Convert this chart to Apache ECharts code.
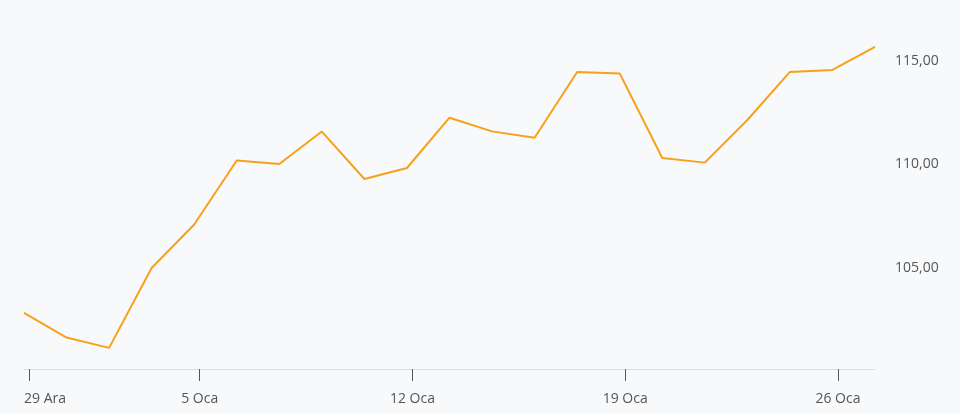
<!DOCTYPE html>
<html>
<head>
<meta charset="utf-8">
<script src="https://cdn.jsdelivr.net/npm/echarts@6/dist/echarts.min.js"></script>
<style>
  html, body { margin: 0; padding: 0; background: #f8f9fb; }
  #chart { width: 960px; height: 414px; }
</style>
</head>
<body>
<div id="chart"></div>
<script>
// trading days (1 Oca holiday, weekends skipped)
const days = ['29 Ara', '30 Ara', '31 Ara', '2 Oca', '5 Oca', '6 Oca', '7 Oca', '8 Oca', '9 Oca',
    '12 Oca', '13 Oca', '14 Oca', '15 Oca', '16 Oca', '19 Oca', '20 Oca', '21 Oca', '22 Oca', '23 Oca',
    '26 Oca', '27 Oca']
const prices = [102.83, 101.64, 101.14, 105.0, 107.10, 110.19, 110.02, 111.59, 109.30,
    109.83, 112.26, 111.60, 111.29, 114.47, 114.40, 110.31, 110.09, 112.15, 114.47,
    114.57, 115.68]
const tickDays = ['29 Ara', '5 Oca', '12 Oca', '19 Oca', '26 Oca']
const yTicks = [105, 110, 115]

// ticks sit a little after the data point of the day (start of day on the source chart)
const tickShift = 0.13
const tickIdx = tickDays.map(d => days.indexOf(d))
const tickPos = tickIdx.map(i => i + tickShift)
const labelPos = tickPos.slice(1) // first label is left aligned on the category axis

let myChart = echarts.init(document.getElementById('chart'))
myChart.setOption({
    backgroundColor: '#f8f9fb',
    animation: false,
    textStyle: { fontFamily: 'Open Sans' },
    grid: {
        left: 24,
        right: 85,
        top: 20,
        bottom: 45
    },
    xAxis: [
        {
            type: 'category',
            data: days,
            boundaryGap: false,
            axisLine: { lineStyle: { color: '#dcdde0', width: 1 } },
            axisTick: { show: false },
            axisLabel: {
                interval: (i) => i === 0,
                margin: 23,
                color: '#555',
                fontSize: 14,
                alignMinLabel: 'left'
            },
            splitLine: { show: false }
        },
        {
            type: 'value',
            position: 'bottom',
            min: 0,
            max: days.length - 1,
            axisLine: { show: false },
            axisTick: {
                show: true,
                customValues: tickPos,
                length: 12,
                lineStyle: { color: '#555' }
            },
            axisLabel: {
                customValues: labelPos,
                margin: 23,
                color: '#555',
                fontSize: 14,
                formatter: (v) => days[Math.round(v)]
            },
            splitLine: { show: false }
        }
    ],
    yAxis: {
        type: 'value',
        position: 'right',
        min: 100.12,
        max: 116.98,
        axisLine: { show: false },
        axisTick: { show: false },
        splitLine: { show: false },
        axisLabel: {
            customValues: yTicks,
            margin: 20,
            color: '#555',
            fontSize: 14,
            formatter: (v) => v.toFixed(2).replace('.', ',')
        }
    },
    series: [
        {
            type: 'line',
            data: prices,
            showSymbol: false,
            lineStyle: { color: '#f7a11a', width: 2 },
            itemStyle: { color: '#f7a11a' }
        }
    ]
})
</script>
</body>
</html>
